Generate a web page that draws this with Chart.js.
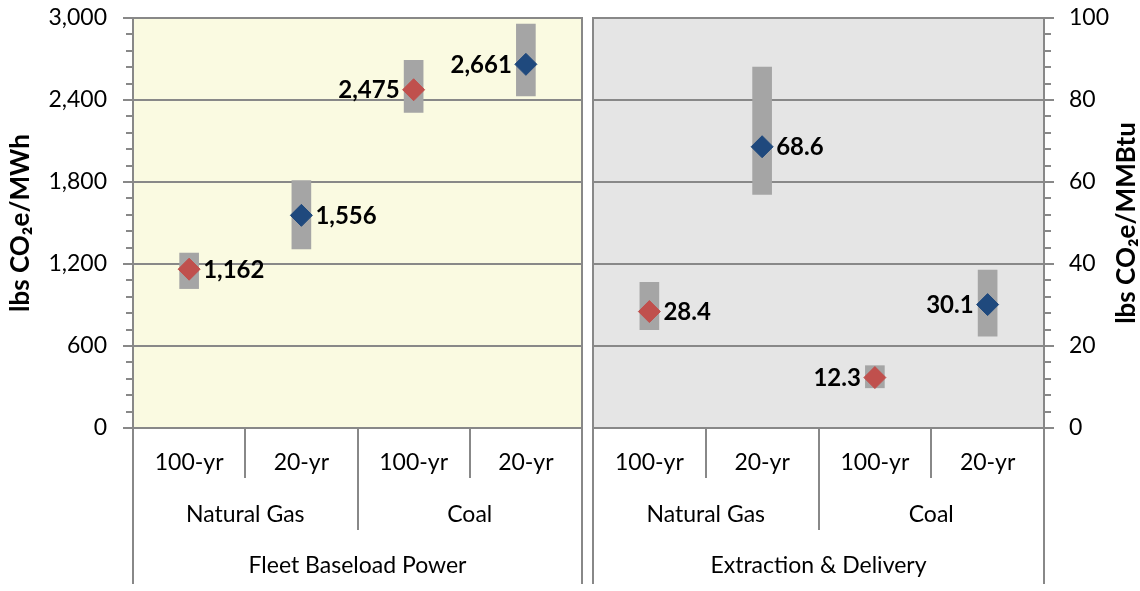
<!DOCTYPE html>
<html><head><meta charset="utf-8">
<script src="https://cdn.jsdelivr.net/npm/chart.js@4.4.1/dist/chart.umd.min.js"></script>
<style>
html,body{margin:0;padding:0;background:#fff;}
#wrap{position:relative;width:1140px;height:591px;overflow:hidden;}
#c1{position:absolute;left:0;top:0;}
#c2{position:absolute;left:588px;top:0;}
</style></head><body>
<div id="wrap"><canvas id="c1" width="588" height="591"></canvas><canvas id="c2" width="552" height="591"></canvas></div>
<script>
// ---- data ----
const periods = ['100-yr','20-yr','100-yr','20-yr'];
const fuels = ['Natural Gas','Coal'];
const panels = ['Fleet Baseload Power','Extraction & Delivery'];
const powerValues = [1162,1556,2475,2661];
const powerLow = [1020,1310,2310,2430];
const powerHigh = [1280,1810,2690,2955];
const extractValues = [28.4,68.6,12.3,30.1];
const extractLow = [24.0,57.0,9.8,22.4];
const extractHigh = [35.5,88.0,15.2,38.5];
const powerAxis = {min:0,max:3000,step:600,minor:120};
const extractAxis = {min:0,max:100,step:20,minor:4};
const labelSide = ['right','right','left','left'];
const axisTitles = ['lbs CO\u2082e/MWh','lbs CO\u2082e/MMBtu'];
const pointColors = ['#c0504d','#1f497d','#c0504d','#1f497d'];

// ---- style ----
const GRID = '#888888';
const FONT = 'Lato';
Chart.defaults.font.family = FONT;
Chart.defaults.font.size = 23;
Chart.defaults.color = '#000';

const panelPlugin = {
  id:'panel',
  beforeDraw(chart, args, opts){
    const {ctx, chartArea:a} = chart;
    ctx.save(); ctx.fillStyle = opts.bg; ctx.fillRect(a.left, a.top, a.right-a.left, a.bottom-a.top); ctx.restore();
  },
  afterDraw(chart, args, opts){
    const {ctx, chartArea:a} = chart;
    const x = chart.scales.x, y = chart.scales.y;
    ctx.save();
    ctx.strokeStyle = GRID; ctx.lineWidth = 2;
    const c = [0,1,2,3].map(i=>x.getPixelForValue(i));
    const b = [(c[0]+c[1])/2,(c[1]+c[2])/2,(c[2]+c[3])/2];
    const vline=(xx,y0,y1)=>{ctx.beginPath();ctx.moveTo(Math.round(xx),y0);ctx.lineTo(Math.round(xx),y1);ctx.stroke();};
    vline(a.left, a.top-1, 584);
    vline(a.right, a.top-1, 584);
    vline(b[0], a.bottom, 478);
    vline(b[2], a.bottom, 478);
    vline(b[1], a.bottom, 530);
    // minor ticks
    const ax = opts.axis;
    const axX = opts.side==='left' ? a.left : a.right;
    for(let v=ax.min; v<=ax.max+1e-9; v+=ax.minor){
      if (Math.abs(v/ax.step - Math.round(v/ax.step))<1e-6) continue;
      const py = Math.round(y.getPixelForValue(v));
      ctx.beginPath();
      if(opts.side==='left'){ctx.moveTo(axX-7,py);ctx.lineTo(axX,py);} else {ctx.moveTo(axX,py);ctx.lineTo(axX+7,py);}
      ctx.stroke();
    }
    // group labels
    ctx.fillStyle='#000'; ctx.textAlign='center'; ctx.textBaseline='middle';
    ctx.font = '23px '+FONT;
    ctx.fillText(fuels[0], (a.left+b[1])/2, 515);
    ctx.fillText(fuels[1], (b[1]+a.right)/2, 515);
    ctx.fillText(opts.panelLabel, (a.left+a.right)/2, 566);
    // data labels
    const meta = chart.getDatasetMeta(1);
    ctx.font = 'bold 24px '+FONT;
    meta.data.forEach((pt,i)=>{
      const val = chart.data.datasets[1].data[i];
      const txt = opts.fmt(val);
      if(labelSide[i]==='right'){ctx.textAlign='left';ctx.fillText(txt, pt.x+14, pt.y+1);}
      else {ctx.textAlign='right';ctx.fillText(txt, pt.x-14, pt.y+1);}
    });
    // axis title
    ctx.font = 'bold 26px '+FONT;
    ctx.textAlign='center';
    ctx.translate(opts.titleX, (a.top+a.bottom)/2);
    ctx.rotate(-Math.PI/2);
    ctx.fillText(opts.title, 0, 0);
    ctx.restore();
  }
};

function makeChart(id, low, high, vals, axis, side, panelLabel, bg, title, titleX, fmt, pad){
  const ranges = low.map((l,i)=>[l, high[i]]);
  return new Chart(document.getElementById(id), {
    type:'bar',
    data:{labels:periods, datasets:[
      {type:'bar', data:ranges, backgroundColor:'#a5a5a5', barThickness:19, order:2},
      {type:'line', data:vals, showLine:false, pointStyle:'rectRot', pointRadius:11, pointHoverRadius:11,
       pointBackgroundColor:pointColors, pointBorderColor:pointColors, pointBorderWidth:1, order:1}
    ]},
    options:{
      responsive:false, animation:false, devicePixelRatio:1,
      layout:{padding:pad, autoPadding:false},
      plugins:{legend:{display:false}, tooltip:{enabled:false},
        panel:{bg, axis, side, panelLabel, title, titleX, fmt}},
      scales:{
        x:{type:'category', offset:true, grid:{display:false, drawTicks:false, offset:true}, border:{display:false},
           ticks:{padding:21, font:{size:23}, maxRotation:0},
           afterFit(s){s.height = 591-428; s.paddingLeft = 0; s.paddingRight = 0;}},
        y:{position:side, min:axis.min, max:axis.max,
           ticks:{stepSize:axis.step, padding:side==='left'?16:15, font:{size:23},
                  callback:(v)=>v.toLocaleString('en-US')},
           grid:{color:GRID, lineWidth:2, tickLength:10, drawTicks:true},
           border:{display:true, color:GRID, width:2},
           afterFit(s){s.width = side==='left'?133:96; s.paddingTop = 0; s.paddingBottom = 0;}}
      }
    },
    plugins:[panelPlugin]
  });
}

makeChart('c1', powerLow, powerHigh, powerValues, powerAxis, 'left', panels[0], '#fafae1', axisTitles[0], 21,
  v=>v.toLocaleString('en-US'), {top:18, right:6, left:0, bottom:0});
makeChart('c2', extractLow, extractHigh, extractValues, extractAxis, 'right', panels[1], '#e5e5e5', axisTitles[1], 539,
  v=>v.toFixed(1), {top:18, left:5, right:0, bottom:0});
</script>
</body></html>
